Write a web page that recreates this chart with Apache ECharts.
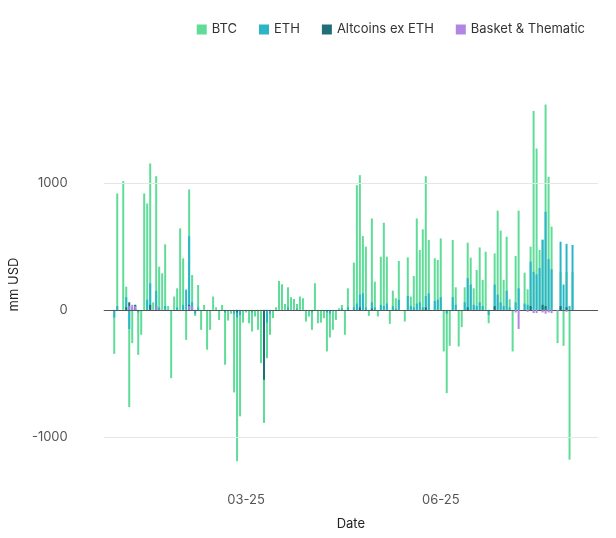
<!DOCTYPE html>
<html><head><meta charset="utf-8">
<script src="https://cdn.jsdelivr.net/npm/echarts@6/dist/echarts.min.js"></script>
<style>html,body{margin:0;background:#fff}#c{width:616px;height:538px}</style>
</head><body><div id="c"></div>
<script>
const btc = [
-346,917,0,1014,183,-765,-262,40,-354,-196,
917,838,1153,60,1053,340,288,516,30,-537,
105,170,642,406,-236,948,275,-47,196,-157,
39,-314,-157,105,20,-79,39,-432,-84,-30,
-650,-1192,-838,-100,-20,-105,-170,-52,-157,-419,
-890,-380,-196,-65,20,228,202,47,178,100,
86,47,105,92,-92,-52,-157,210,-105,-100,
-65,-327,-217,-157,-79,13,39,-196,170,0,
372,982,1061,581,498,-47,720,222,-52,419,
686,419,-110,152,92,385,0,-92,414,105,
267,720,472,634,1053,550,0,406,393,563,
-327,-655,-283,550,178,-288,-136,178,529,411,
170,314,492,236,458,-105,0,445,781,624,
236,576,84,-327,424,781,0,293,162,498,
1567,1271,472,555,1617,1048,655,0,-262,300,
-283,300,-1179,300];
const eth = [
-60,30,0,0,100,-150,20,10,-20,0,
0,80,210,0,150,20,0,30,0,0,
0,20,0,40,160,580,60,-30,20,0,
0,0,0,0,0,0,0,-20,0,0,
-30,-60,-40,0,0,0,-20,0,-10,0,
-100,-100,-30,0,0,0,0,0,20,0,
0,10,0,0,0,0,-20,0,0,0,
0,-20,-30,0,0,0,10,0,20,0,
20,50,120,130,20,0,60,20,0,40,
30,50,0,30,10,80,0,0,110,30,
20,50,60,20,110,130,0,70,80,100,
0,-30,0,100,40,0,0,60,250,200,
40,30,60,30,0,-40,0,200,120,60,
30,150,20,0,60,170,0,50,40,380,
300,280,330,550,773,400,320,0,0,537,
200,520,30,511];
const alt = [
0,0,0,0,20,60,0,40,0,0,
0,0,40,0,30,0,0,0,0,0,
0,0,0,0,0,40,0,0,0,0,
0,0,0,0,0,0,0,0,0,0,
0,-20,0,0,0,0,0,0,0,0,
-550,0,0,0,0,0,0,0,0,0,
0,0,0,0,0,0,0,0,0,0,
0,0,0,0,0,0,0,0,0,0,
0,0,20,0,0,0,10,0,0,0,
0,0,0,0,0,0,0,0,0,0,
0,0,0,0,20,0,0,0,0,0,
0,0,0,0,0,0,0,0,20,0,
0,0,0,0,0,0,0,30,0,0,
0,0,0,0,0,0,0,0,0,30,
0,0,0,40,30,0,0,0,0,30,
0,20,0,0];
const basket = [
0,0,0,0,0,30,40,30,0,0,
0,0,0,0,30,0,0,0,0,0,
0,0,0,0,0,30,30,0,0,0,
0,0,0,0,0,0,0,0,0,0,
0,0,0,0,0,0,0,0,0,0,
0,0,0,0,0,0,0,0,0,0,
0,0,0,0,0,0,0,0,0,0,
0,0,0,0,0,0,0,0,0,0,
0,0,0,0,0,0,0,0,0,0,
0,0,0,0,0,0,0,0,0,0,
0,0,0,0,0,0,0,0,0,0,
0,0,0,0,0,0,0,0,0,0,
0,0,0,0,0,0,0,0,0,0,
0,0,0,0,-20,-150,0,0,-15,0,
-25,-25,0,-20,-30,-20,-25,0,-10,0,
0,-15,0,0];
const seriesNames = ['BTC','ETH','Altcoins ex ETH','Basket & Thematic'];
const colors = ['#5fdc98','#2bb5c9','#1f6f79','#b284e4'];
const yTicks = [-1000,0,1000];
const xTickLabels = ['03-25','06-25'];

const pre = 3, post = 8;
const dates = [];
let d = new Date(Date.UTC(2024,11,26));
while (dates.length < pre + btc.length + post) {
  const wd = d.getUTCDay();
  if (wd !== 0 && wd !== 6) dates.push(d.toISOString().slice(0,10));
  d = new Date(d.getTime() + 86400000);
}
const pad = a => Array(pre).fill(null).concat(a, Array(post).fill(null));
const labelDates = {'2025-03-03':xTickLabels[0],'2025-06-02':xTickLabels[1]};

const data = [btc, eth, alt, basket];
const series = data.map((arr,i)=>({
  name: seriesNames[i], type:'bar', data: pad(arr), barGap:'-100%', barWidth:2,
  itemStyle:{color:colors[i]}, z: 2+i,
  markLine: i===0 ? {symbol:'none', silent:true, label:{show:false},
    data: yTicks.map(v=>({yAxis:v, lineStyle:{color: v===0?'#555':'#e6e6e6', width:1, type:'solid'}}))} : undefined
}));

const chart = echarts.init(document.getElementById('c'));
chart.setOption({
  animation:false,
  textStyle:{fontFamily:'Inter'},
  legend:{top:18, right:26, itemWidth:10, itemHeight:10, itemGap:22, icon:'rect',
    textStyle:{fontSize:13, color:'#333'}, data: seriesNames},
  grid:{left:100, right:18, top:94, bottom:63},
  xAxis:{type:'category', data:dates, name:'Date', nameLocation:'middle', nameGap:43,
    nameTextStyle:{fontSize:13, color:'#222'},
    axisLine:{show:false}, axisTick:{show:false},
    axisLabel:{interval:(idx,val)=>val in labelDates, formatter:v=>labelDates[v]||'', fontSize:13, color:'#555', margin:19}},
  yAxis:{type:'value', min:-1300, max:1700, interval:100, name:'mm USD', nameLocation:'middle', nameGap:78,
    nameTextStyle:{fontSize:13, color:'#222'},
    splitLine:{show:false}, axisLine:{show:false}, axisTick:{show:false},
    axisLabel:{formatter:v=>yTicks.includes(v)?String(v):'', fontSize:13, color:'#555', margin:36}},
  series
});
</script></body></html>
